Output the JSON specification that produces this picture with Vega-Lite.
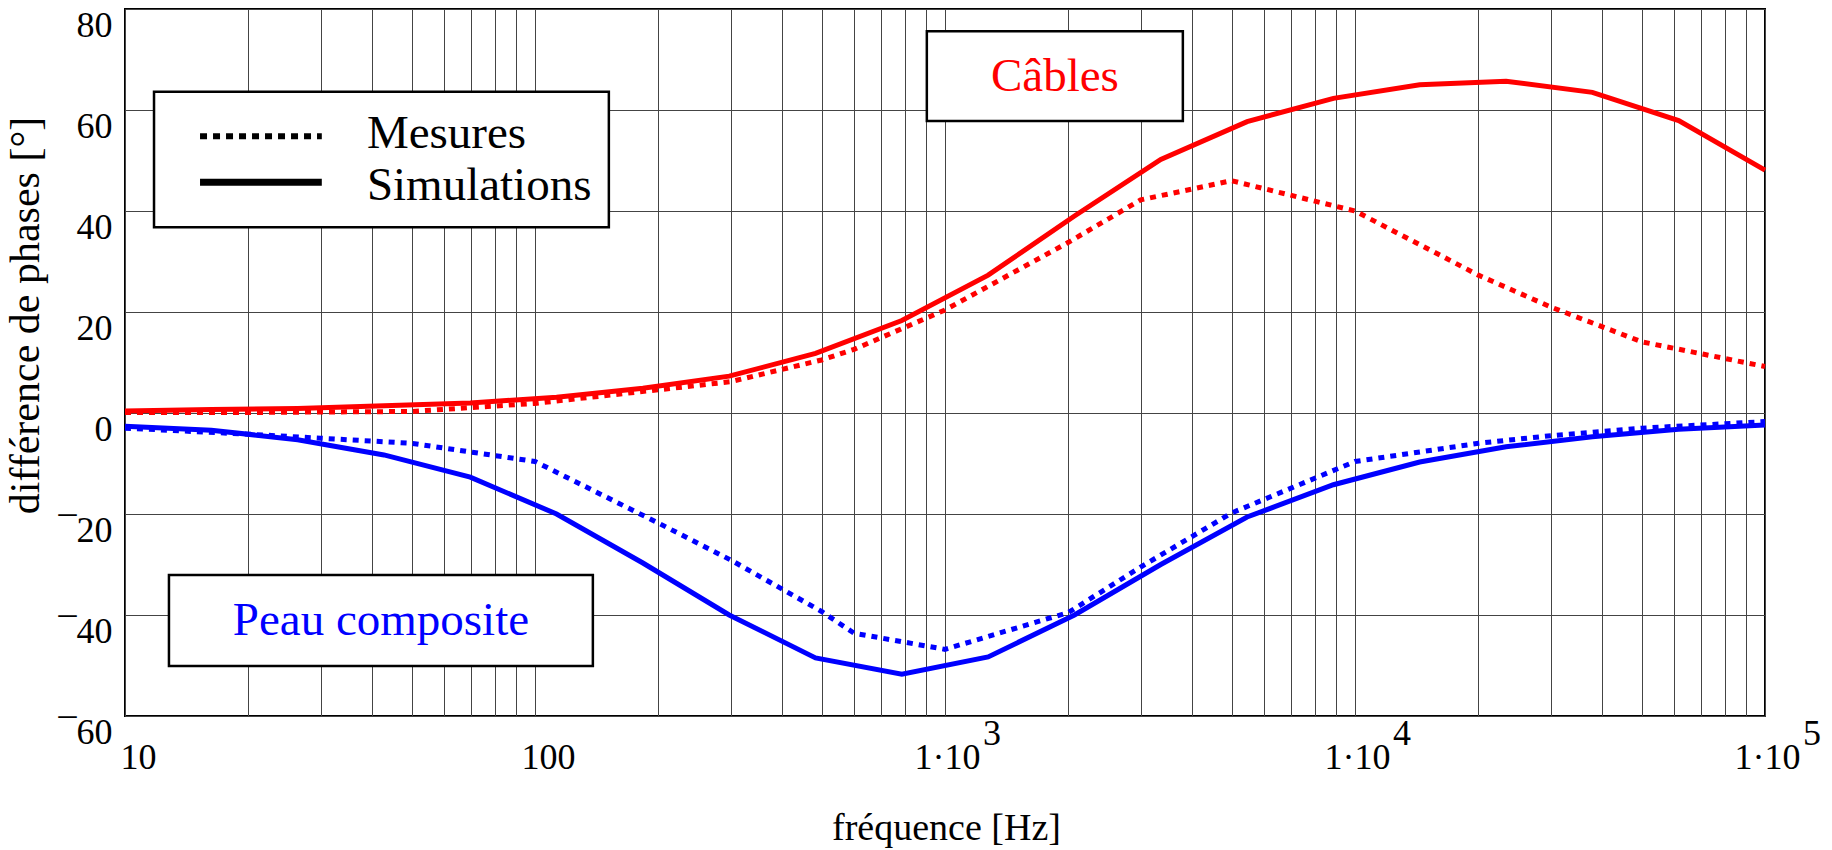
{
  "$schema": "https://vega.github.io/schema/vega-lite/v6.json",
  "width": 1640,
  "height": 707,
  "autosize": {"type": "none"},
  "padding": {"left": 125, "top": 9, "right": 67, "bottom": 134},
  "background": "white",
  "config": {
    "font": "Liberation Serif",
    "view": {"stroke": "black", "strokeWidth": 2},
    "axis": {
      "domain": false,
      "ticks": false,
      "tickSize": 0,
      "grid": true,
      "gridColor": "#444444",
      "gridWidth": 1,
      "labelFont": "Liberation Serif",
      "labelFontSize": 36,
      "labelColor": "black",
      "labelOverlap": false,
      "labelFlush": false,
      "titleFont": "Liberation Serif",
      "titleFontSize": 42,
      "titleFontWeight": "normal",
      "titleColor": "black"
    }
  },
  "datasets": {
    "sim": [
      {"f": 10, "v": 0.4, "serie": "Câbles"},
      {"f": 16.238, "v": 0.7, "serie": "Câbles"},
      {"f": 26.367, "v": 0.9, "serie": "Câbles"},
      {"f": 42.813, "v": 1.45, "serie": "Câbles"},
      {"f": 69.519, "v": 2.0, "serie": "Câbles"},
      {"f": 112.88, "v": 3.1, "serie": "Câbles"},
      {"f": 183.3, "v": 4.9, "serie": "Câbles"},
      {"f": 297.64, "v": 7.3, "serie": "Câbles"},
      {"f": 483.29, "v": 11.8, "serie": "Câbles"},
      {"f": 784.76, "v": 18.3, "serie": "Câbles"},
      {"f": 1274.3, "v": 27.3, "serie": "Câbles"},
      {"f": 2069.1, "v": 39.0, "serie": "Câbles"},
      {"f": 3359.8, "v": 50.2, "serie": "Câbles"},
      {"f": 5455.6, "v": 57.7, "serie": "Câbles"},
      {"f": 8858.7, "v": 62.3, "serie": "Câbles"},
      {"f": 14384, "v": 65.0, "serie": "Câbles"},
      {"f": 23357, "v": 65.7, "serie": "Câbles"},
      {"f": 37927, "v": 63.5, "serie": "Câbles"},
      {"f": 61585, "v": 57.9, "serie": "Câbles"},
      {"f": 100000, "v": 48.1, "serie": "Câbles"},
      {"f": 10, "v": -2.6, "serie": "Peau"},
      {"f": 16.238, "v": -3.4, "serie": "Peau"},
      {"f": 26.367, "v": -5.3, "serie": "Peau"},
      {"f": 42.813, "v": -8.3, "serie": "Peau"},
      {"f": 69.519, "v": -12.7, "serie": "Peau"},
      {"f": 112.88, "v": -20.0, "serie": "Peau"},
      {"f": 183.3, "v": -29.7, "serie": "Peau"},
      {"f": 297.64, "v": -40.0, "serie": "Peau"},
      {"f": 483.29, "v": -48.5, "serie": "Peau"},
      {"f": 784.76, "v": -51.7, "serie": "Peau"},
      {"f": 1274.3, "v": -48.3, "serie": "Peau"},
      {"f": 2069.1, "v": -40.0, "serie": "Peau"},
      {"f": 3359.8, "v": -30.0, "serie": "Peau"},
      {"f": 5455.6, "v": -20.6, "serie": "Peau"},
      {"f": 8858.7, "v": -14.2, "serie": "Peau"},
      {"f": 14384, "v": -9.7, "serie": "Peau"},
      {"f": 23357, "v": -6.7, "serie": "Peau"},
      {"f": 37927, "v": -4.7, "serie": "Peau"},
      {"f": 61585, "v": -3.2, "serie": "Peau"},
      {"f": 100000, "v": -2.4, "serie": "Peau"}
    ],
    "mes": [
      {"f": 10, "v": 0.1, "serie": "Câbles"},
      {"f": 20, "v": 0.1, "serie": "Câbles"},
      {"f": 30, "v": 0.2, "serie": "Câbles"},
      {"f": 50, "v": 0.3, "serie": "Câbles"},
      {"f": 100, "v": 1.9, "serie": "Câbles"},
      {"f": 200, "v": 4.6, "serie": "Câbles"},
      {"f": 300, "v": 6.2, "serie": "Câbles"},
      {"f": 500, "v": 10.5, "serie": "Câbles"},
      {"f": 600, "v": 12.6, "serie": "Câbles"},
      {"f": 1000, "v": 20.4, "serie": "Câbles"},
      {"f": 2000, "v": 33.8, "serie": "Câbles"},
      {"f": 3000, "v": 42.2, "serie": "Câbles"},
      {"f": 5000, "v": 46.0, "serie": "Câbles"},
      {"f": 10000, "v": 40.0, "serie": "Câbles"},
      {"f": 20000, "v": 27.3, "serie": "Câbles"},
      {"f": 30000, "v": 21.0, "serie": "Câbles"},
      {"f": 50000, "v": 14.1, "serie": "Câbles"},
      {"f": 100000, "v": 9.2, "serie": "Câbles"},
      {"f": 10, "v": -3.0, "serie": "Peau"},
      {"f": 20, "v": -4.2, "serie": "Peau"},
      {"f": 30, "v": -5.0, "serie": "Peau"},
      {"f": 50, "v": -6.0, "serie": "Peau"},
      {"f": 100, "v": -9.6, "serie": "Peau"},
      {"f": 200, "v": -21.8, "serie": "Peau"},
      {"f": 300, "v": -29.1, "serie": "Peau"},
      {"f": 500, "v": -39.3, "serie": "Peau"},
      {"f": 600, "v": -43.6, "serie": "Peau"},
      {"f": 1000, "v": -46.8, "serie": "Peau"},
      {"f": 2000, "v": -39.5, "serie": "Peau"},
      {"f": 3000, "v": -30.5, "serie": "Peau"},
      {"f": 5000, "v": -19.8, "serie": "Peau"},
      {"f": 10000, "v": -9.6, "serie": "Peau"},
      {"f": 20000, "v": -6.0, "serie": "Peau"},
      {"f": 30000, "v": -4.5, "serie": "Peau"},
      {"f": 50000, "v": -3.0, "serie": "Peau"},
      {"f": 100000, "v": -1.7, "serie": "Peau"}
    ]
  },
  "encoding": {
    "x": {
      "field": "f",
      "type": "quantitative",
      "scale": {"type": "log", "domain": [10, 100000], "nice": false},
      "axis": {
        "title": "fréquence [Hz]",
        "titleX": 821,
        "titleY": 123,
        "titleAlign": "center",
        "titleBaseline": "alphabetic",
        "titleFontSize": 38,
        "values": [10, 20, 30, 40, 50, 60, 70, 80, 90, 100, 200, 300, 400, 500, 600, 700, 800, 900, 1000, 2000, 3000, 4000, 5000, 6000, 7000, 8000, 9000, 10000, 20000, 30000, 40000, 50000, 60000, 70000, 80000, 90000, 100000],
        "labelExpr": "datum.value == 10 ? '10' : datum.value == 100 ? '100' : (datum.value == 1000 || datum.value == 10000 || datum.value == 100000) ? '1·10' : ''",
        "labelAlign": "center",
        "labelBaseline": "alphabetic",
        "labelPadding": 52,
        "labelOffset": {"condition": {"test": "datum.value >= 1000", "value": 2}, "value": 13}
      }
    },
    "y": {
      "field": "v",
      "type": "quantitative",
      "scale": {"domain": [-60, 80], "nice": false, "zero": false},
      "axis": {
        "title": "différence de phases [°]",
        "titleX": -87,
        "titleY": 306,
        "titleAngle": -90,
        "titleAlign": "center",
        "titleBaseline": "alphabetic",
        "values": [-60, -40, -20, 0, 20, 40, 60, 80],
        "labelExpr": "datum.value < 0 ? '¯' + (-datum.value) : '' + datum.value",
        "labelBaseline": "middle",
        "labelPadding": 13,
        "labelOffset": 16
      }
    }
  },
  "layer": [
    {
      "data": {"name": "sim"},
      "mark": {"type": "line", "strokeWidth": 5},
      "encoding": {
        "color": {"field": "serie", "type": "nominal", "scale": {"domain": ["Câbles", "Peau"], "range": ["#ff0000", "#0000ff"]}, "legend": null}
      }
    },
    {
      "data": {"name": "mes"},
      "mark": {"type": "line", "strokeWidth": 5, "strokeDash": [6, 6]},
      "encoding": {
        "color": {"field": "serie", "type": "nominal", "legend": null}
      }
    },
    {
      "data": {"values": [
        {"f": 11.77, "f2": 151.4, "v": 36.8, "v2": 63.6},
        {"f": 903, "f2": 3803, "v": 57.8, "v2": 75.6},
        {"f": 12.8, "f2": 138.4, "v": -50.1, "v2": -32.1}
      ]},
      "mark": {"type": "rect", "fill": "white", "stroke": "black", "strokeWidth": 2.5},
      "encoding": {
        "x2": {"field": "f2"},
        "y2": {"field": "v2"}
      }
    },
    {
      "data": {"values": [{"f": 15.24, "v": 54.8}, {"f": 30.2, "v": 54.8}]},
      "mark": {"type": "line", "color": "black", "strokeWidth": 6, "strokeDash": [7, 6]},
      "encoding": {}
    },
    {
      "data": {"values": [{"f": 15.24, "v": 45.7}, {"f": 30.2, "v": 45.7}]},
      "mark": {"type": "line", "color": "black", "strokeWidth": 7},
      "encoding": {}
    },
    {
      "data": {"values": [
        {"f": 38.9, "v": 52.5, "t": "Mesures"},
        {"f": 38.9, "v": 42.2, "t": "Simulations"}
      ]},
      "mark": {"type": "text", "align": "left", "baseline": "alphabetic", "fontSize": 47, "color": "black"},
      "encoding": {"text": {"field": "t"}}
    },
    {
      "data": {"values": [{"f": 1854, "v": 63.8, "t": "Câbles"}]},
      "mark": {"type": "text", "align": "center", "baseline": "alphabetic", "fontSize": 47, "color": "#ff0000"},
      "encoding": {"text": {"field": "t"}}
    },
    {
      "data": {"values": [{"f": 42.1, "v": -44.0, "t": "Peau composite"}]},
      "mark": {"type": "text", "align": "center", "baseline": "alphabetic", "fontSize": 47, "color": "#0000ff"},
      "encoding": {"text": {"field": "t"}}
    },
    {
      "data": {"values": [{"f": 1000, "v": -65.7, "e": "3"}, {"f": 10000, "v": -65.7, "e": "4"}, {"f": 100000, "v": -65.7, "e": "5"}]},
      "mark": {"type": "text", "align": "center", "baseline": "alphabetic", "fontSize": 36, "color": "black", "dx": 47, "clip": false},
      "encoding": {"text": {"field": "e"}}
    }
  ]
}
